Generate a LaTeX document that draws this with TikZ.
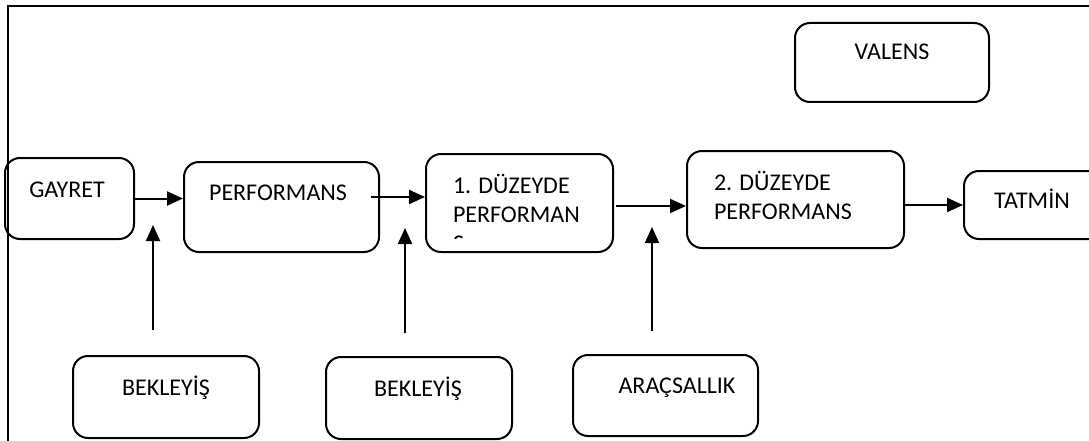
\documentclass[tikz,border=0pt]{standalone}
\usepackage{fontspec}
\setmainfont{Carlito}
\usetikzlibrary{arrows.meta}

\begin{document}
\begin{tikzpicture}[x=1pt, y=-1pt, line width=2pt, >={Triangle[length=16pt,width=14pt]},
    box/.style={draw, rounded corners=15pt, inner sep=0pt},
    txt/.style={font=\fontsize{24}{29}\selectfont, inner sep=0pt, align=left}]
    \useasboundingbox (0,0) rectangle (1089,441);
    \clip (0,0) rectangle (1089,441);

    % Frame
    \draw (1089,6) -- (8,6) -- (8,441);

    % Boxes {gayret, perf, duzey1, duzey2, tatmin, valens, etc}
    \node [box, minimum width=129pt, minimum height=81pt] (gayret) at (69.5,198.5) {};
    \node [box, minimum width=195pt, minimum height=90pt] (perf)   at (281.5,207)  {};
    \node [box, minimum width=187pt, minimum height=98pt] (duzey1) at (519.5,203)  {};
    \node [box, minimum width=217pt, minimum height=97pt] (duzey2) at (795.5,199.5) {};
    \node [box, minimum width=150pt, minimum height=68pt] (tatmin) at (1039,205)   {};
    \node [box, minimum width=194pt, minimum height=79pt] (valens) at (892,62.5)   {};
    \node [box, minimum width=186pt, minimum height=82pt] (bek1)   at (166,397)    {};
    \node [box, minimum width=186pt, minimum height=82pt] (bek2)   at (419,398)    {};
    \node [box, minimum width=185pt, minimum height=81pt] (arac)   at (665.5,395.5) {};

    % Texts (base of a two-line text is its last line)
    \node [txt, anchor=base]      (gayrett) at (67,197)   {GAYRET};
    \node [txt, anchor=base]      (perft)   at (278,200)  {PERFORMANS};
    \node [txt, anchor=base west] (duzey1t) at (452,222)  {1. DÜZEYDE\\PERFORMAN};
    \node [txt, anchor=base west] (duzey2t) at (713,219)  {2. DÜZEYDE\\PERFORMANS};
    \node [txt, anchor=base]      (valenst) at (892,60)   {VALENS};
    \node [txt, anchor=base]      (tatmint) at (1032,208) {TATMİN};
    \node [txt, anchor=base]      (bek1t)   at (166,395)  {BEKLEYİŞ};
    \node [txt, anchor=base]      (bek2t)   at (418,396)  {BEKLEYİŞ};
    \node [txt, anchor=base]      (aract)   at (677,393)  {ARAÇSALLIK};
    \begin{scope}
        \clip (440,230) rectangle (480,238);
        \node [txt, anchor=base west] (duzey1s) at (452,251) {S};
    \end{scope}

    % Free ends
    \coordinate (p2) at (371,197);
    \coordinate (p3) at (616,206);
    \coordinate (v1) at (153,330);  \coordinate (w1) at (153,225);
    \coordinate (v2) at (405,333);  \coordinate (w2) at (405,228);
    \coordinate (v3) at (652,331);  \coordinate (w3) at (652,227);

    % Paths
    \draw [->] (gayret.east) -- (gayret.east -| perf.west);
    \draw [->] (p2) -- (p2 -| duzey1.west);
    \draw [->] (p3) -- (p3 -| duzey2.west);
    \draw [->] (tatmin.west -| duzey2.east) -- (tatmin.west);
    \draw [->] (v1) -- (w1);
    \draw [->] (v2) -- (w2);
    \draw [->] (v3) -- (w3);
\end{tikzpicture}
\end{document}
